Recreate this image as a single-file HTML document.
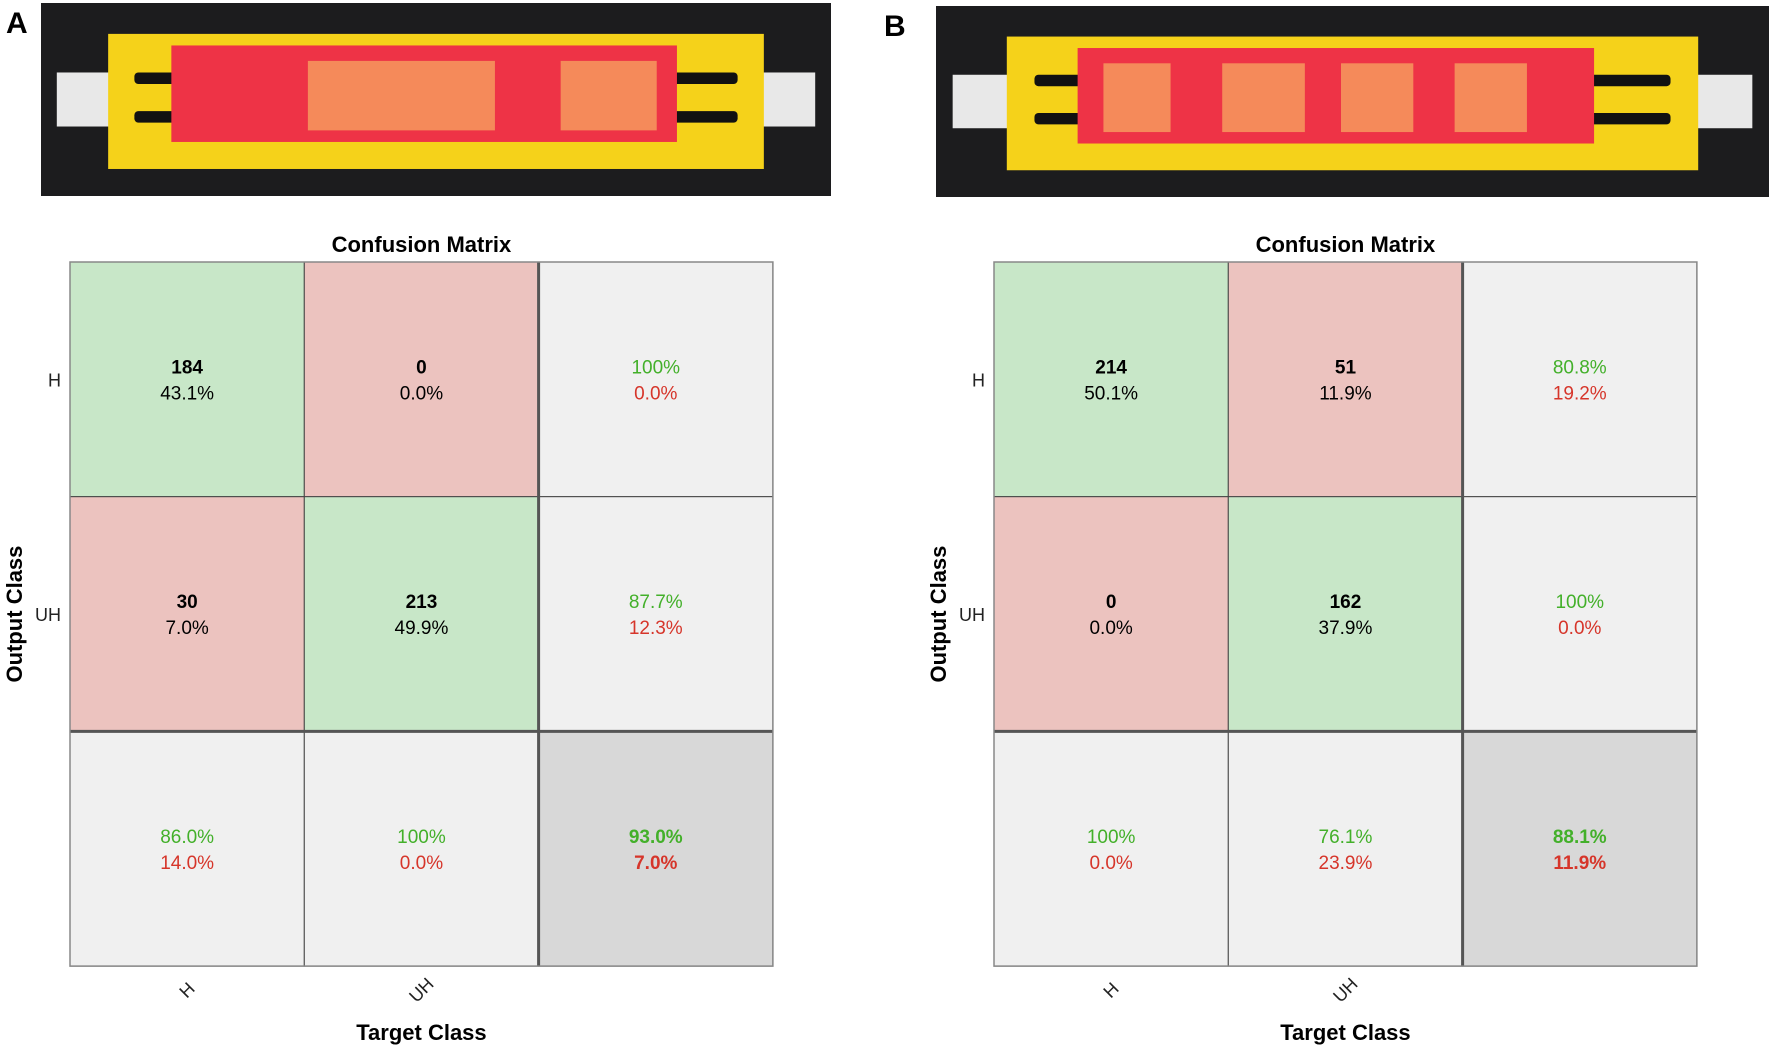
<!DOCTYPE html>
<html><head><meta charset="utf-8"><style>
html,body{margin:0;padding:0;background:#fff;}
svg{display:block;font-family:"Liberation Sans",Arial,sans-serif;}
</style></head><body>
<svg id="fig" width="1772" height="1049" viewBox="0 0 1772 1049" xmlns="http://www.w3.org/2000/svg">
<g id="photos"></g>
<g id="mats"></g>
</svg>
<script>
const NS='http://www.w3.org/2000/svg';
const classes=['H','UH'];
const countsA=[[184,0],[30,213]];
const pctA=[['43.1%','0.0%'],['7.0%','49.9%']];
const rowSumA=[['100%','0.0%'],['87.7%','12.3%']];
const colSumA=[['86.0%','14.0%'],['100%','0.0%']];
const totalA=['93.0%','7.0%'];
const countsB=[[214,51],[0,162]];
const pctB=[['50.1%','11.9%'],['0.0%','37.9%']];
const rowSumB=[['80.8%','19.2%'],['100%','0.0%']];
const colSumB=[['100%','0.0%'],['76.1%','23.9%']];
const totalB=['88.1%','11.9%'];

function el(tag,attrs,parent,txt){const e=document.createElementNS(NS,tag);for(const k in attrs)e.setAttribute(k,attrs[k]);if(txt!==undefined)e.textContent=txt;parent.appendChild(e);return e;}

// photos
function photo(x,y,w,h,label,lx,variant){
  const g=el('g',{},document.getElementById('photos'));
  
  
  el('rect',{x:x,y:y,width:w,height:h,fill:'#1c1c1e'},g);
  const px=x+w*0.085,pw=w*0.83,py=y+h*0.16,ph=h*0.7;
  el('rect',{x:x+w*0.02,y:y+h*0.36,width:w*0.96,height:h*0.28,fill:'#e8e8e8'},g);
  el('rect',{x:px,y:py,width:pw,height:ph,fill:'#f5d21a'},g);
  el('rect',{x:px+pw*0.04,y:y+h*0.36,width:pw*0.92,height:h*0.06,fill:'#111',rx:4},g);
  el('rect',{x:px+pw*0.04,y:y+h*0.56,width:pw*0.92,height:h*0.06,fill:'#111',rx:4},g);
  const sx=x+w*(variant?0.17:0.165),sw=w*(variant?0.62:0.64);
  el('rect',{x:sx,y:y+h*0.22,width:sw,height:h*0.5,fill:'#ee3346'},g);
  const wins=variant?[[0.05,0.13],[0.28,0.16],[0.51,0.14],[0.73,0.14]]:[[0.27,0.37],[0.77,0.19]];
  wins.forEach(wn=>el('rect',{x:sx+sw*wn[0],y:y+h*0.3,width:sw*wn[1],height:h*0.36,fill:'#f58a5a'},g));
  el('text',{x:lx,y:y+30,'font-size':30,'font-weight':'bold',fill:'#000'},g,label);
}
photo(41,3,790,193,'A',6,false);
photo(936,6,833,191,'B',884,true);

function matrix(x0,counts,pcts,rowSum,colSum,total,name){
  const g=el('g',{},document.getElementById('mats'));
  
  
  const y0=262,cw=234.3,ch=234.7;
  const cx=i=>x0+i*cw, cy=j=>y0+j*ch;
  const n=classes.length;
  for(let r=0;r<=n;r++)for(let c=0;c<=n;c++){
    let fill,l1,l2,c1,c2,bold1=false,bold2=false;
    if(r<n&&c<n){fill=r===c?'#c8e7c8':'#ecc3bf';l1=String(counts[r][c]);l2=pcts[r][c];c1='#000';c2='#000';bold1=true;}
    else if(r<n){fill='#f0f0f0';l1=rowSum[r][0];l2=rowSum[r][1];c1='#43b02a';c2='#d6352a';}
    else if(c<n){fill='#f0f0f0';l1=colSum[c][0];l2=colSum[c][1];c1='#43b02a';c2='#d6352a';}
    else{fill='#d8d8d8';l1=total[0];l2=total[1];c1='#43b02a';c2='#d6352a';bold1=bold2=true;}
    const rc=el('rect',{x:cx(c),y:cy(r),width:cw,height:ch,fill:fill,stroke:'#444','stroke-width':1},g);
    
    
    const mx=cx(c)+cw/2,my=cy(r)+ch/2;
    el('text',{x:mx,y:my-6,'text-anchor':'middle','font-size':19,fill:c1,'font-weight':bold1?'bold':'normal'},g,l1);
    el('text',{x:mx,y:my+20,'text-anchor':'middle','font-size':19,fill:c2,'font-weight':bold2?'bold':'normal'},g,l2);
  }
  el('line',{x1:cx(n),y1:y0,x2:cx(n),y2:y0+3*ch,stroke:'#555','stroke-width':3},g);
  el('line',{x1:x0,y1:cy(n),x2:x0+3*cw,y2:cy(n),stroke:'#555','stroke-width':3},g);
  el('rect',{x:x0,y:y0,width:3*cw,height:3*ch,fill:'none',stroke:'#888','stroke-width':1.5},g);
  const t=el('text',{x:x0+1.5*cw,y:252,'text-anchor':'middle','font-size':22,'font-weight':'bold'},g,'Confusion Matrix');
  
  classes.forEach((cl,i)=>{
    el('text',{x:x0-9,y:cy(i)+ch/2+7,'text-anchor':'end','font-size':18,fill:'#222'},g,cl);
    el('text',{x:cx(i)+cw/2,y:y0+3*ch+30,'text-anchor':'middle','font-size':18,fill:'#222',transform:'rotate(-45 '+(cx(i)+cw/2)+' '+(y0+3*ch+24)+')'},g,cl);
  });
  const yl=el('text',{x:0,y:0,'text-anchor':'middle','font-size':22,'font-weight':'bold',transform:'translate('+(x0-48)+' '+(y0+1.5*ch)+') rotate(-90)'},g,'Output Class');
  
  const xl=el('text',{x:x0+1.5*cw,y:1040,'text-anchor':'middle','font-size':22,'font-weight':'bold'},g,'Target Class');
  
}
matrix(70,countsA,pctA,rowSumA,colSumA,totalA,'a');
matrix(994,countsB,pctB,rowSumB,colSumB,totalB,'b');
</script>
</body></html>
